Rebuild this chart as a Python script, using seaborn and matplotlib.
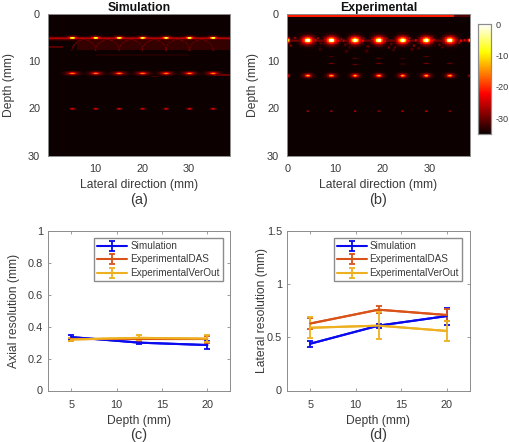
# -*- coding: utf-8 -*-
# Simulation vs experimental images + resolution curves

import numpy as np
import pandas as pd
import seaborn as sns
import matplotlib.pyplot as plt
from matplotlib.transforms import blended_transform_factory

sns.set_style('white')
plt.rcParams['font.family'] = ['Liberation Sans', 'DejaVu Sans']

W, H = 510, 442
text_col = '#3a3a3a'
edge_col = '#8c8c8c'
tick_size = 7.9
label_size = 8.7

#%% values

depths = [5, 12.5, 20]
names = ['Simulation', 'ExperimentalDAS', 'ExperimentalVerOut']
line_cols = ['#0a0aee', '#d95319', '#edb120']

axial_sim = [0.335, 0.30, 0.285]
axial_sim_err = [0.015, 0.01, 0.025]
axial_das = [0.32, 0.32, 0.32]
axial_das_err = [0.01, 0.01, 0.02]
axial_ver = [0.32, 0.33, 0.325]
axial_ver_err = [0.01, 0.015, 0.02]

lateral_sim = [0.44, 0.61, 0.70]
lateral_sim_err = [0.03, 0.02, 0.08]
lateral_das = [0.63, 0.76, 0.71]
lateral_das_err = [0.055, 0.03, 0.06]
lateral_ver = [0.59, 0.61, 0.56]
lateral_ver_err = [0.10, 0.125, 0.09]

# point targets in the images (lateral mm), peak level in dB per row
sim_x = [5, 10, 15, 20, 25, 30, 35]
sim_z = [5.0, 12.5, 20.0]
sim_peak = [-4, -11, -23]
sim_sx = [0.5, 0.6, 0.35]
sim_sz = [0.17, 0.17, 0.11]

exp_x = [4.2, 9.2, 14.2, 19.2, 24.2, 29.2, 34.2]
exp_z = [5.5, 13.0, 20.5]
exp_peak = [4, -10, -25]
exp_sx = [0.55, 0.45, 0.18]
exp_sz = [0.38, 0.22, 0.1]

# x centre of the domes under the first row of the simulation
sim_arc_x = [7.5, 12.5, 17.5, 22.5, 27.5, 32.5]

# speckle around the first row of the experiment: x, depth, dB
speck_x = [1.5, 2.8, 6.3, 7.0, 7.8, 11.3, 12.1, 13.0, 16.0, 16.9, 17.9, 20.8, 21.8, 22.6, 25.7, 26.6,
           27.6, 30.8, 32.0, 35.7, 36.5, 37.3, 6.8, 11.8, 12.4, 16.6, 21.3, 22.3, 26.2, 27.0, 32.6, 0.6,
           5.8, 10.7, 15.8, 20.5, 25.5, 30.5, 36.2]
speck_z = [5.0, 6.3, 5.1, 6.2, 5.4, 5.3, 6.4, 7.0, 5.2, 6.8, 5.4, 5.2, 6.3, 7.0, 5.1, 6.6,
           7.2, 5.4, 6.4, 5.3, 5.6, 5.5, 7.4, 5.6, 7.8, 7.8, 7.0, 7.6, 7.4, 5.5, 6.9, 6.6,
           5.5, 5.6, 5.6, 5.7, 5.6, 5.6, 6.0]
speck_db = [-26, -29, -26, -30, -26, -25, -30, -31, -26, -29, -24, -25, -28, -30, -24, -28,
            -30, -24, -29, -24, -22, -23, -31, -24, -30, -30, -29, -31, -30, -24, -30, -29,
            -22, -22, -22, -22, -22, -22, -26]

# faint repeats between the first and second row of the experiment
ghost_x = [9.2, 14.2, 19.2, 24.2, 29.2, 34.2, 14.2, 19.2, 24.2, 29.2, 9.2]
ghost_z = [10.4, 10.6, 10.4, 10.5, 10.4, 10.4, 9.3, 9.3, 9.4, 9.0, 9.0]
ghost_db = [-28, -29, -28, -29, -28, -29, -31, -31, -31, -31, -32]

floor_db = -34.8
cbar_ticks = [0, -10, -20, -30]

#%% images

dx = 0.15
sim_xmax, exp_xmax, zmax = 38.7, 38.4, 30


def blob(img, X, Z, x0, z0, sx, sz, level):
    g = (level - floor_db) * np.exp(-((X - x0) / sx) ** 2 / 2 - ((Z - z0) / sz) ** 2 / 2) + floor_db
    return np.maximum(img, g)


def sim_image():
    X, Z = np.meshgrid(np.arange(0, sim_xmax, dx), np.arange(0, zmax, dx))
    img = np.full(X.shape, floor_db)
    img = np.maximum(img, np.where(Z < 0.3, -32, floor_db))
    # horizontal band and glow below it
    img = np.maximum(img, -26 - 9 * np.abs(Z - 5.1) / 0.55)
    img = np.maximum(img, np.where((Z > 5.3) & (Z < 7.6) & (X > 6), -32.8, floor_db))
    img = np.maximum(img, np.where((Z > 6.7) & (Z < 7.1) & (X < 3), -31, floor_db))
    img = np.maximum(img, np.where((Z > 8.4) & (Z < 8.8) & (X > 10) & (X < 30), -33.8, floor_db))
    for xc in sim_arc_x:
        r = np.hypot(X - xc, (Z - 8.0))
        arc = -29.5 - 6 * np.abs(r - 2.6) / 0.25
        img = np.maximum(img, np.where(Z < 7.7, arc, floor_db))
    # thin curved echo near the second row
    dip = np.where(np.abs(X - 22.5) < 3, -31.5 - 4 * np.abs(Z - 12.95 - 0.25 * np.cos((X - 22.5) / 1.0)) / 0.12, floor_db)
    img = np.maximum(img, dip)
    img = np.maximum(img, np.where((Z > 12.7) & (Z < 12.95) & (X > 35), -30, floor_db))
    for z0, pk, sx, sz in zip(sim_z, sim_peak, sim_sx, sim_sz):
        for x0 in sim_x:
            img = blob(img, X, Z, x0, z0, sx, sz, pk)
            img = blob(img, X, Z, x0, z0, sx * 1.7, sz * 1.5, pk - 14)
    return img


def exp_image():
    X, Z = np.meshgrid(np.arange(0, exp_xmax, dx), np.arange(0, zmax, dx))
    img = np.full(X.shape, floor_db)
    # strip along the surface
    img = np.maximum(img, np.where((Z < 0.5) & (X < 35), -21, floor_db))
    img = np.maximum(img, np.where((Z < 0.5) & (X >= 35), -31, floor_db))
    img = np.maximum(img, -29 - 6 * np.abs(Z - 5.6) / 0.4)
    for x0, z0, d in zip(speck_x, speck_z, speck_db):
        img = blob(img, X, Z, x0, z0, 0.2, 0.2, d)
    for x0, z0, d in zip(ghost_x, ghost_z, ghost_db):
        img = blob(img, X, Z, x0, z0, 0.4, 0.1, d)
    for z0, pk, sx, sz in zip(exp_z, exp_peak, exp_sx, exp_sz):
        for x0 in exp_x:
            img = blob(img, X, Z, x0, z0, sx, sz, pk)
            img = blob(img, X, Z, x0, z0, sx * 1.6, sz * 1.6, pk - 15)
        img = blob(img, X, Z, 0.0, z0, 0.3, sz, pk - 12)
        img = blob(img, X, Z, exp_xmax, z0, 0.3, sz * 0.7, pk - 14)
    return img


def axes_px(fig, left, top, right, bottom):
    return fig.add_axes([left / W, 1 - bottom / H, (right - left) / W, (bottom - top) / H])


def style(ax):
    for s in ax.spines.values():
        s.set_visible(True)
        s.set_color(edge_col)
        s.set_linewidth(0.7)
    ax.tick_params(direction='in', length=2, width=0.6, color=edge_col, labelcolor=text_col, labelsize=tick_size,
                   bottom=True, left=True, pad=3)


def place_ylabel(ax, text, x_px):
    ax.set_ylabel(text, color=text_col, fontsize=label_size)
    # rotated label sits with its right edge on the coordinate
    trans = blended_transform_factory(ax.figure.transFigure, ax.transAxes)
    ax.yaxis.set_label_coords((x_px + 9) / W, 0.5, transform=trans)


def draw_image(ax, img, xmax, xticks, title, label_x, cbar_ax=None):
    sns.heatmap(img, ax=ax, cmap='hot', vmin=-35, vmax=0, xticklabels=False, yticklabels=False,
                cbar=cbar_ax is not None, cbar_ax=cbar_ax, rasterized=True)
    style(ax)
    ax.set_xticks([t / dx for t in xticks])
    ax.set_xticklabels(xticks)
    ax.set_yticks([t / dx for t in [0, 10, 20, 30]])
    ax.set_yticklabels([0, 10, 20, 30], rotation=0)
    ax.set_ylim(zmax / dx, 0)
    ax.set_xlim(0, xmax / dx)
    ax.tick_params(length=0, pad=6)
    ax.set_xlabel('Lateral direction (mm)', color=text_col, fontsize=label_size, labelpad=3.5)
    place_ylabel(ax, 'Depth (mm)', label_x)
    ax.set_title(title, fontweight='bold', color='#111111', fontsize=8.8, pad=2)


def draw_res(ax, sim, sim_e, das, das_e, ver, ver_e, ylim, yticks, yticklabels, ylabel, label_x):
    series = [(sim, sim_e), (das, das_e), (ver, ver_e)]
    df = pd.concat([pd.DataFrame({'depth': depths, 'res': s[0], 'kind': n}) for s, n in zip(series, names)])
    sns.lineplot(data=df, x='depth', y='res', hue='kind', palette=line_cols, ax=ax, legend=False, linewidth=1.5)
    for (vals, errs), n, c in zip(series, names, line_cols):
        ax.errorbar(depths, vals, yerr=errs, color=c, label=n, linewidth=1.5, elinewidth=1.3, capsize=2.4, capthick=1.3)
    ax.set_xlim(2.5, 22.5)
    ax.set_ylim(*ylim)
    ax.set_xticks([5, 10, 15, 20])
    ax.set_yticks(yticks)
    ax.set_yticklabels(yticklabels)
    style(ax)
    ax.tick_params(top=True, right=True)
    ax.tick_params(axis='x', pad=6.5)
    ax.tick_params(axis='y', pad=4)
    ax.set_xlabel('Depth (mm)', color=text_col, fontsize=label_size, labelpad=4)
    place_ylabel(ax, ylabel, label_x)


#%% figure

fig = plt.figure(figsize=(W / 100, H / 100), dpi=100)

ax_a = axes_px(fig, 48.5, 14, 230, 155.5)
ax_b = axes_px(fig, 287.5, 14, 469.5, 155.5)
ax_cb = axes_px(fig, 478, 24, 491.5, 134)
ax_c = axes_px(fig, 48.5, 231, 230, 390.5)
ax_d = axes_px(fig, 287.5, 231, 469.5, 390.5)

draw_image(ax_a, sim_image(), sim_xmax, [10, 20, 30], 'Simulation', 6)
draw_image(ax_b, exp_image(), exp_xmax, [0, 10, 20, 30], 'Experimental', 250, cbar_ax=ax_cb)

ax_cb.set_yticks(cbar_ticks)
ax_cb.set_yticklabels(cbar_ticks)
ax_cb.tick_params(right=False, length=0, labelcolor=text_col, labelsize=6.6, pad=3)
for s in ax_cb.spines.values():
    s.set_visible(True)
    s.set_color(edge_col)
    s.set_linewidth(0.8)

draw_res(ax_c, axial_sim, axial_sim_err, axial_das, axial_das_err, axial_ver, axial_ver_err,
         (0, 1), [0, 0.2, 0.4, 0.6, 0.8, 1], ['0', '0.2', '0.4', '0.6', '0.8', '1'], 'Axial resolution (mm)', 11)
draw_res(ax_d, lateral_sim, lateral_sim_err, lateral_das, lateral_das_err, lateral_ver, lateral_ver_err,
         (0, 1.5), [0, 0.5, 1, 1.5], ['0', '0.5', '1', '1.5'], 'Lateral resolution (mm)', 259)

for ax, right in [(ax_c, 223), (ax_d, 462)]:
    box = ax.get_position()
    ax.legend(loc='upper right', bbox_to_anchor=((right / W - box.x0) / box.width, 1 - 7 / 159.5),
              fontsize=7.2, frameon=True, fancybox=False, framealpha=1, edgecolor=edge_col, labelcolor=text_col,
              borderaxespad=0, borderpad=0.3, handlelength=3.0, handletextpad=0.3, labelspacing=0.35)

for x, y, s in [(139, 204, '(a)'), (378, 204, '(b)'), (139, 439, '(c)'), (378, 439, '(d)')]:
    fig.text(x / W, 1 - y / H, s, ha='center', va='baseline', color=text_col, fontsize=10.5)

fig.savefig('out.png', dpi=100)
